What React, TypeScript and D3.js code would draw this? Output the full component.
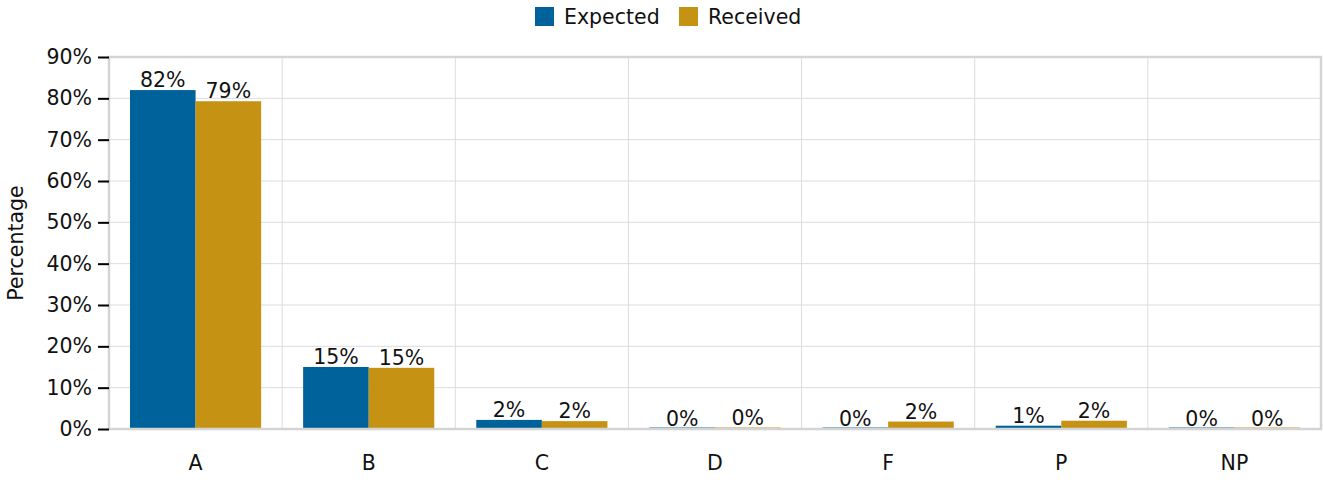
import React, { useEffect, useRef } from 'react';
import * as d3 from 'd3';

const categories = ['A', 'B', 'C', 'D', 'F', 'P', 'NP'];
const expected = [0.82, 0.15, 0.022, 0.001, 0.001, 0.008, 0.001];
const received = [0.793, 0.148, 0.019, 0.003, 0.018, 0.02, 0.001];
const seriesNames = ['Expected', 'Received'];
const seriesColors = ['#00629b', '#c69214'];
const yTicks = [0, 0.1, 0.2, 0.3, 0.4, 0.5, 0.6, 0.7, 0.8, 0.9];

const width = 1323;
const height = 483;
const FONT = '"DejaVu Sans", Verdana, sans-serif';
const FS = 20.5;

const App: React.FC = () => {
  const svgRef = useRef<SVGSVGElement>(null);

  useEffect(() => {
    if (!svgRef.current) return;
    const svg = d3.select(svgRef.current);
    svg.selectAll('*').remove();

    const margin = { top: 57, right: 2, bottom: 54, left: 109 };
    const innerWidth = width - margin.left - margin.right;
    const innerHeight = height - margin.top - margin.bottom;

    const g = svg.append('g').attr('transform', `translate(${margin.left},${margin.top})`);

    const x = d3.scaleBand().domain(categories).range([0, innerWidth]).paddingInner(0).paddingOuter(0);
    const x1 = d3.scaleBand().domain(seriesNames).range([0, x.bandwidth()]).paddingOuter(0.32).paddingInner(0);
    const y = d3.scaleLinear().domain([0, 0.9]).range([innerHeight, 0]);

    // horizontal grid
    g.append('g')
      .selectAll('line')
      .data(yTicks)
      .enter().append('line')
      .attr('x1', 0).attr('x2', innerWidth)
      .attr('y1', d => y(d)).attr('y2', d => y(d))
      .attr('stroke', '#dcdcdc').attr('stroke-width', 1);

    // vertical grid between categories
    g.append('g')
      .selectAll('line')
      .data(categories.slice(1))
      .enter().append('line')
      .attr('x1', d => x(d) || 0).attr('x2', d => x(d) || 0)
      .attr('y1', 0).attr('y2', innerHeight)
      .attr('stroke', '#dcdcdc').attr('stroke-width', 1);

    // bars
    const data = categories.map((c, i) => ({ c, vals: [expected[i], received[i]] }));
    const groups = g.selectAll('.grp').data(data).enter().append('g')
      .attr('transform', d => `translate(${x(d.c)},0)`);

    groups.selectAll('rect')
      .data(d => d.vals.map((v, k) => ({ v, k })))
      .enter().append('rect')
      .attr('x', d => x1(seriesNames[d.k]) || 0)
      .attr('y', d => Math.min(y(d.v), innerHeight - 1.5))
      .attr('width', x1.bandwidth())
      .attr('height', d => Math.max(1.5, innerHeight - y(d.v)))
      .attr('fill', d => seriesColors[d.k]);

    groups.selectAll('text')
      .data(d => d.vals.map((v, k) => ({ v, k })))
      .enter().append('text')
      .attr('x', d => (x1(seriesNames[d.k]) || 0) + x1.bandwidth() / 2)
      .attr('y', d => y(d.v) - 3)
      .attr('text-anchor', 'middle')
      .attr('font-family', FONT)
      .attr('font-size', FS)
      .attr('fill', '#111')
      .text(d => d3.format('.0%')(d.v));

    // plot border
    g.append('rect')
      .attr('x', 0).attr('y', 0)
      .attr('width', innerWidth).attr('height', innerHeight)
      .attr('fill', 'none').attr('stroke', '#d4d4d4').attr('stroke-width', 2.5);

    // y axis
    const yAxis = g.append('g')
      .call(d3.axisLeft(y).tickValues(yTicks).tickFormat(d3.format('.0%')).tickSize(11).tickPadding(6));
    yAxis.select('.domain').remove();
    yAxis.selectAll('.tick line').attr('stroke', '#000').attr('stroke-width', 2);
    yAxis.selectAll('.tick text').attr('font-family', FONT).attr('font-size', FS).attr('fill', '#111');

    // x axis labels
    g.append('g')
      .selectAll('text')
      .data(categories)
      .enter().append('text')
      .attr('x', d => (x(d) || 0) + x.bandwidth() / 2)
      .attr('y', innerHeight + 41)
      .attr('text-anchor', 'middle')
      .attr('font-family', FONT)
      .attr('font-size', FS)
      .attr('fill', '#111')
      .text(d => d);

    // y title
    svg.append('text')
      .attr('transform', `translate(23,${margin.top + innerHeight / 2}) rotate(-90)`)
      .attr('text-anchor', 'middle')
      .attr('font-family', FONT)
      .attr('font-size', FS)
      .attr('fill', '#111')
      .text('Percentage');

    // legend
    const legend = svg.append('g').attr('transform', 'translate(535,7)');
    const legendX = [0, 144];
    seriesNames.forEach((name, i) => {
      const lg = legend.append('g').attr('transform', `translate(${legendX[i]},0)`);
      lg.append('rect').attr('width', 19).attr('height', 19).attr('fill', seriesColors[i]);
      lg.append('text')
        .attr('x', 29).attr('y', 17)
        .attr('font-family', FONT)
        .attr('font-size', FS)
        .attr('fill', '#111')
        .text(name);
    });
  }, []);

  return (
    <div style={{ position: 'absolute', left: 0, top: 0 }}>
      <svg ref={svgRef} width={width} height={height} style={{ display: 'block', background: '#fff' }} />
    </div>
  );
};

export default App;
